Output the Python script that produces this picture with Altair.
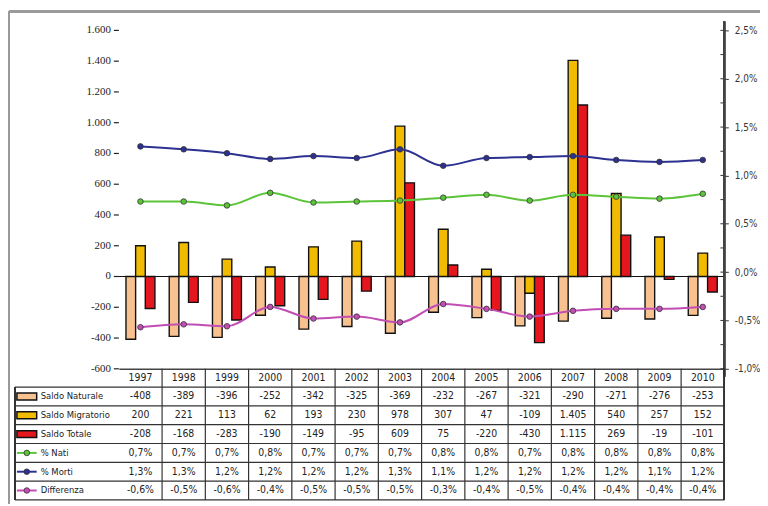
import altair as alt
import pandas as pd

years = ["1997", "1998", "1999", "2000", "2001", "2002", "2003",
         "2004", "2005", "2006", "2007", "2008", "2009", "2010"]
saldo_naturale = [-408, -389, -396, -252, -342, -325, -369, -232, -267, -321, -290, -271, -276, -253]
saldo_migratorio = [200, 221, 113, 62, 193, 230, 978, 307, 47, -109, 1405, 540, 257, 152]
saldo_totale = [-208, -168, -283, -190, -149, -95, 609, 75, -220, -430, 1115, 269, -19, -101]
pct_nati = [0.73, 0.73, 0.69, 0.82, 0.72, 0.73, 0.74, 0.77, 0.80, 0.74, 0.80, 0.78, 0.76, 0.81]
pct_morti = [1.30, 1.27, 1.23, 1.17, 1.20, 1.18, 1.27, 1.10, 1.18, 1.19, 1.20, 1.16, 1.14, 1.16]
differenza = [-0.57, -0.54, -0.56, -0.36, -0.48, -0.46, -0.52, -0.33, -0.38, -0.46, -0.40, -0.38, -0.38, -0.36]

bar_names = ["Saldo Naturale", "Saldo Migratorio", "Saldo Totale"]
line_names = ["% Nati", "% Morti", "Differenza"]
all_names = bar_names + line_names
colors = ["#f7c290", "#f0bb00", "#e5161d", "#5cc43a", "#2d3190", "#c24db4"]
left_ticks = [-600, -400, -200, 0, 200, 400, 600, 800, 1000, 1200, 1400, 1600]
right_ticks = [-1.0, -0.5, 0.0, 0.5, 1.0, 1.5, 2.0, 2.5]
right_minor = [-0.75, -0.25, 0.25, 0.75, 1.25, 1.75, 2.25]

W, H = 612, 342
NUM_FONT = "'Liberation Sans Narrow', 'DejaVu Sans Condensed', sans-serif"
LBL_FONT = "'DejaVu Sans Condensed', 'DejaVu Sans', sans-serif"


def fmt_int(v):
    return ("-" if v < 0 else "") + f"{abs(v):,}".replace(",", ".")


def fmt_pct(v):
    return ("-" if v < 0 else "") + f"{abs(v):.1f}".replace(".", ",") + "%"


bar_rows = []
for name, vals in zip(bar_names, [saldo_naturale, saldo_migratorio, saldo_totale]):
    for y, v in zip(years, vals):
        bar_rows.append({"year": y, "series": name, "value": v})
bars_df = pd.DataFrame(bar_rows)

line_rows = []
for name, vals in zip(line_names, [pct_nati, pct_morti, differenza]):
    for y, v in zip(years, vals):
        line_rows.append({"year": y, "series": name, "value": v})
lines_df = pd.DataFrame(line_rows)

table_rows = []
for y in years:
    table_rows.append({"year": y, "r": 0, "label": y})
for i, (name, vals) in enumerate(zip(all_names, [saldo_naturale, saldo_migratorio, saldo_totale,
                                                   pct_nati, pct_morti, differenza])):
    for y, v in zip(years, vals):
        table_rows.append({"year": y, "r": i + 1,
                           "label": fmt_int(v) if i < 3 else fmt_pct(v)})
table_df = pd.DataFrame(table_rows)

legend_df = pd.DataFrame({"series": all_names, "r": list(range(1, 7))})
hlines_df = pd.DataFrame({"r": [0.5 + i for i in range(7)]})
vlines_df = pd.DataFrame({"year": years[1:]})
left_tick_df = pd.DataFrame({"value": left_ticks})

color_scale = alt.Scale(domain=all_names, range=colors)
x_enc = alt.X("year:O", scale=alt.Scale(domain=years, paddingInner=0, paddingOuter=0),
              axis=alt.Axis(title=None, labels=False, ticks=False, domain=True,
                            domainColor="#444", domainWidth=1.5))

# ---- bars (left axis)
left_scale = alt.Scale(domain=[-600, 1600], nice=False, zero=False)
bars = alt.Chart(bars_df).mark_bar(stroke="#111", strokeWidth=1.4).encode(
    x=x_enc,
    xOffset=alt.XOffset("series:N", scale=alt.Scale(domain=bar_names, paddingInner=0, paddingOuter=0.74)),
    y=alt.Y("value:Q", scale=left_scale, axis=None),
    color=alt.Color("series:N", scale=color_scale, legend=None),
)
zero_line = alt.Chart(bars_df).mark_rule(color="#111", strokeWidth=1.2).encode(
    y=alt.YDatum(0, axis=None), x=alt.value(0), x2=alt.value(W)
)
# left axis drawn from its tick list
left_tick_marks = alt.Chart(left_tick_df).mark_rule(color="#222", strokeWidth=1.2).encode(
    y=alt.Y("value:Q", axis=None), x=alt.value(-5), x2=alt.value(0)
)
left_tick_labels = alt.Chart(left_tick_df).transform_calculate(
    lbl="(datum.value < 0 ? '-' : '') + replace(format(abs(datum.value), ','), ',', '.')"
).mark_text(font="'Liberation Serif', serif", fontSize=11, color="#222", align="right",
            baseline="middle", dx=-8).encode(
    y=alt.Y("value:Q", axis=None), x=alt.value(0), text="lbl:N"
)
bar_layer = alt.layer(bars, zero_line, left_tick_marks, left_tick_labels)

# ---- lines (right axis)
right_scale = alt.Scale(domain=[-1.0, 2.5], nice=False, zero=False)
line_y = alt.Y("value:Q", scale=right_scale,
               axis=alt.Axis(orient="right", title=None, values=right_ticks, grid=False, domain=False,
                             tickSize=4, tickColor="#333", labelPadding=6, labelOverlap=False,
                             labelFont=LBL_FONT, labelFontSize=10, labelColor="#333",
                             labelExpr="(datum.value < 0 ? '-' : '') + replace(format(abs(datum.value), '.1f'), '.', ',') + '%'"))
lines = alt.Chart(lines_df).mark_line(strokeWidth=2, interpolate="monotone").encode(
    x="year:O", y=line_y,
    color=alt.Color("series:N", scale=color_scale, legend=None),
    detail="series:N",
)
points = alt.Chart(lines_df).mark_point(filled=True, size=32, stroke="#333", strokeWidth=0.8, opacity=1).encode(
    x="year:O", y="value:Q",
    color=alt.Color("series:N", scale=color_scale, legend=None),
)
minor_df = pd.DataFrame({"value": right_minor + right_ticks})
minor = alt.Chart(minor_df).mark_rule(color="#333", strokeWidth=1).encode(
    y="value:Q", x=alt.value(W - 4), x2=alt.value(W)
)
axis_line = alt.Chart(minor_df).mark_rule(color="#444", strokeWidth=1.5).encode(
    x=alt.value(W), y=alt.value(-9), y2=alt.value(350)
)
line_layer = alt.layer(lines, points, minor, axis_line)

# ---- data table below
row_scale = alt.Scale(domain=[0, 6], range=[351, 465], nice=False, zero=False)
row_y = alt.Y("r:Q", scale=row_scale, axis=None)
cells = alt.Chart(table_df).mark_text(font=NUM_FONT, fontSize=10.5, color="#222", baseline="middle").encode(
    x="year:O", y=row_y, text="label:N"
)
hlines = alt.Chart(hlines_df).mark_rule(color="#333", strokeWidth=1.2).encode(
    y="r:Q", x=alt.value(-105), x2=alt.value(W)
)
vlines = alt.Chart(vlines_df).mark_rule(color="#333", strokeWidth=1.2).encode(
    x=alt.X("year:O", bandPosition=0), y=alt.value(342), y2=alt.value(474.5)
)
border_r = alt.Chart(vlines_df).mark_rule(color="#333", strokeWidth=1.2).encode(
    x=alt.value(W), y=alt.value(342), y2=alt.value(474.5)
)
border_l = alt.Chart(vlines_df).mark_rule(color="#333", strokeWidth=1.2).encode(
    x=alt.value(-105), y=alt.value(360.5), y2=alt.value(474.5)
)
leg_text = alt.Chart(legend_df).mark_text(font=LBL_FONT, fontSize=9.5, color="#222", align="left",
                                           baseline="middle").encode(
    x=alt.value(-79), y="r:Q", text="series:N"
)
leg_swatch = alt.Chart(legend_df[legend_df.r <= 3]).mark_point(
    shape="M-1,-0.35L1,-0.35L1,0.35L-1,0.35Z", size=400, filled=True, stroke="#111",
    strokeWidth=1.5, opacity=1).encode(
    x=alt.value(-93), y="r:Q", color=alt.Color("series:N", scale=color_scale, legend=None)
)
leg_line = alt.Chart(legend_df[legend_df.r > 3]).mark_rule(strokeWidth=2).encode(
    x=alt.value(-103), x2=alt.value(-83), y="r:Q",
    color=alt.Color("series:N", scale=color_scale, legend=None)
)
leg_dot = alt.Chart(legend_df[legend_df.r > 3]).mark_point(
    filled=True, size=32, stroke="#333", strokeWidth=0.8, opacity=1).encode(
    x=alt.value(-93), y="r:Q", color=alt.Color("series:N", scale=color_scale, legend=None)
)
frame_top = alt.Chart(legend_df).mark_rule(color="#999", strokeWidth=2).encode(
    x=alt.value(-111), x2=alt.value(W + 40), y=alt.value(-19)
)
frame_left = alt.Chart(legend_df).mark_rule(color="#999", strokeWidth=2).encode(
    x=alt.value(-111), y=alt.value(-19), y2=alt.value(480)
)
table_layer = alt.layer(cells, hlines, vlines, border_r, border_l, leg_text, leg_swatch,
                        leg_line, leg_dot, frame_top, frame_left)

chart = alt.layer(bar_layer, line_layer, table_layer).resolve_scale(
    y="independent"
).properties(
    width=W, height=H,
    autosize=alt.AutoSizeParams(type="none"),
    padding={"left": 112, "top": 20, "right": 36, "bottom": 134},
    background="white",
).configure_view(stroke=None)

chart.save("out.html", embed_options={"renderer": "svg", "actions": False})
